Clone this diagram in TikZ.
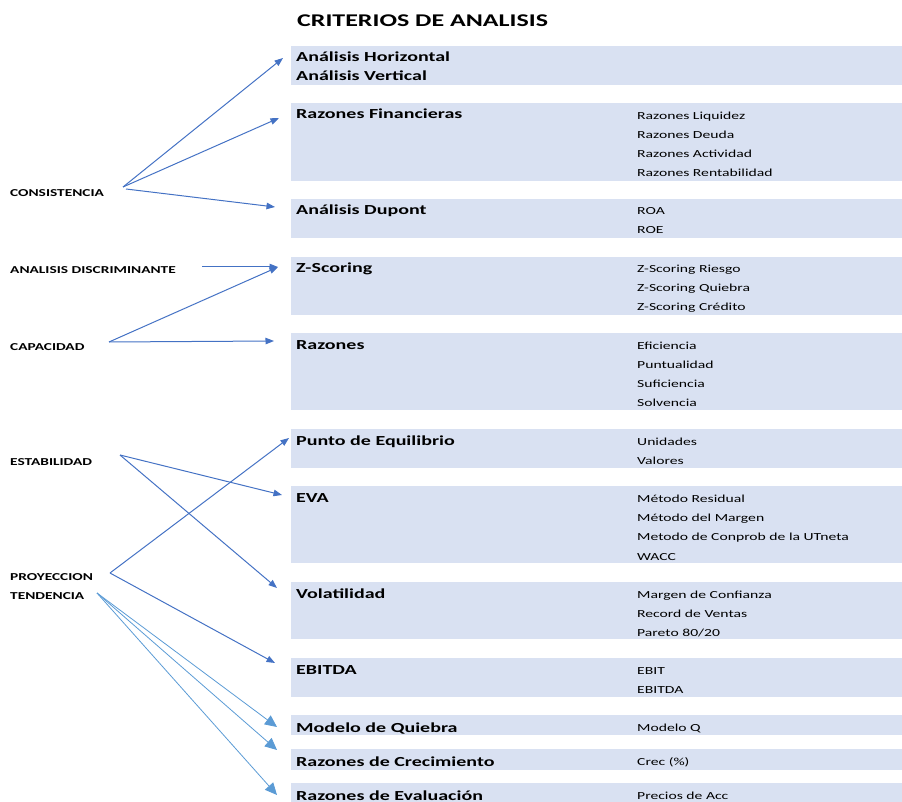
\documentclass[tikz,border=0pt]{standalone}
\usepackage{fontspec}
\setmainfont{Carlito}[FakeStretch=1.45]
\usetikzlibrary{arrows.meta}
\definecolor{boxfill}{HTML}{D9E1F2}
\definecolor{arr}{HTML}{4472C4}
\definecolor{arrl}{HTML}{5B9BD5}
\begin{document}
\begin{tikzpicture}[x=1pt,y=-1pt,
  box/.style={fill=boxfill, anchor=north west, inner sep=0pt, minimum width=611pt, draw=none},
  mainlbl/.style={anchor=base west, inner sep=0pt, yshift=-2pt, font=\fontsize{13.8}{16}\selectfont\bfseries},
  sublbl/.style={anchor=base west, inner sep=0pt, yshift=-1pt, font=\fontsize{10.8}{13}\selectfont},
  leftlbl/.style={anchor=base west, inner sep=0pt, yshift=-2pt, font=\fontsize{10.6}{13}\selectfont\bfseries},
  titlelbl/.style={anchor=base west, inner sep=0pt, font=\fontsize{17.9}{20}\selectfont\bfseries},
  conn/.style={draw=arr, line width=1pt, -{Triangle[length=8.5pt,width=6.5pt]}},
  connl/.style={draw=arrl, line width=0.8pt, -{Triangle[length=12pt,width=11pt]}}
]
\useasboundingbox (0,0) rectangle (902,802);

% title
\node[titlelbl] (title) at (297,27) {CRITERIOS DE ANALISIS};

% boxes
\node[box, minimum height=39pt] (b1) at (291,46) {};
\node[box, minimum height=78pt] (b2) at (291,103) {};
\node[box, minimum height=39pt] (b3) at (291,199) {};
\node[box, minimum height=58pt] (b4) at (291,257) {};
\node[box, minimum height=77pt] (b5) at (291,333) {};
\node[box, minimum height=39pt] (b6) at (291,429) {};
\node[box, minimum height=77pt] (b7) at (291,486) {};
\node[box, minimum height=57pt] (b8) at (291,582) {};
\node[box, minimum height=39pt] (b9) at (291,658) {};
\node[box, minimum height=20pt] (b10) at (291,715) {};
\node[box, minimum height=21pt] (b11) at (291,749) {};
\node[box, minimum height=19pt] (b12) at (291,783) {};

% main labels
\node[mainlbl] (m1a) at (296,60) {Análisis Horizontal};
\node[mainlbl] (m1b) at (296,79) {Análisis Vertical};
\node[mainlbl] (m2) at (296,117) {Razones Financieras};
\node[mainlbl] (m3) at (296,213) {Análisis Dupont};
\node[mainlbl] (m4) at (296,271) {Z-Scoring};
\node[mainlbl] (m5) at (296,347) {Razones};
\node[mainlbl] (m6) at (296,443) {Punto de Equilibrio};
\node[mainlbl] (m7) at (296,500) {EVA};
\node[mainlbl] (m8) at (296,596) {Volatilidad};
\node[mainlbl] (m9) at (296,672) {EBITDA};
\node[mainlbl] (m10) at (296,730) {Modelo de Quiebra};
\node[mainlbl] (m11) at (296,764) {Razones de Crecimiento};
\node[mainlbl] (m12) at (296,798) {Razones de Evaluación};

% sub items
\node[sublbl] (s2a) at (637,119) {Razones Liquidez};
\node[sublbl] (s2b) at (637,138) {Razones Deuda};
\node[sublbl] (s2c) at (637,157) {Razones Actividad};
\node[sublbl] (s2d) at (637,176) {Razones Rentabilidad};
\node[sublbl] (s3a) at (637,214) {ROA};
\node[sublbl] (s3b) at (637,233) {ROE};
\node[sublbl] (s4a) at (637,272) {Z-Scoring Riesgo};
\node[sublbl] (s4b) at (637,291) {Z-Scoring Quiebra};
\node[sublbl] (s4c) at (637,310) {Z-Scoring Crédito};
\node[sublbl] (s5a) at (637,348) {Eficiencia};
\node[sublbl] (s5b) at (637,367) {Puntualidad};
\node[sublbl] (s5c) at (637,386) {Suficiencia};
\node[sublbl] (s5d) at (637,405) {Solvencia};
\node[sublbl] (s6a) at (637,444) {Unidades};
\node[sublbl] (s6b) at (637,463) {Valores};
\node[sublbl] (s7a) at (637,501) {Método Residual};
\node[sublbl] (s7b) at (637,520) {Método del Margen};
\node[sublbl] (s7c) at (637,539) {Metodo de Conprob de la UTneta};
\node[sublbl] (s7d) at (637,559) {WACC};
\node[sublbl] (s8a) at (637,597) {Margen de Confianza};
\node[sublbl] (s8b) at (637,616) {Record de Ventas};
\node[sublbl] (s8c) at (637,635) {Pareto 80/20};
\node[sublbl] (s9a) at (637,673) {EBIT};
\node[sublbl] (s9b) at (637,692) {EBITDA};
\node[sublbl] (s10) at (637,730) {Modelo Q};
\node[sublbl] (s11) at (637,764) {Crec (\%)};
\node[sublbl] (s12) at (637,798) {Precios de Acc};

% left labels
\node[leftlbl] (cons) at (10,195) {CONSISTENCIA};
\node[leftlbl] (disc) at (10,272) {ANALISIS DISCRIMINANTE};
\node[leftlbl] (capa) at (10,348) {CAPACIDAD};
\node[leftlbl] (esta) at (10,463) {ESTABILIDAD};
\node[leftlbl] (proy) at (10,578) {PROYECCION};
\node[leftlbl] (tend) at (10,597) {TENDENCIA};

% connector end points
\coordinate (cons-o1) at (123,187);
\coordinate (cons-o2) at (126,189);
\coordinate (disc-o) at (202,267);
\coordinate (capa-o) at (109,342);
\coordinate (esta-o) at (120,455);
\coordinate (proy-o) at (110,573);
\coordinate (tend-o) at (97,593);

\coordinate (t1) at (283,58);
\coordinate (t2) at (279,118);
\coordinate (t3) at (275,207);
\coordinate (t4) at (278,267);
\coordinate (t5) at (274,341);
\coordinate (t6) at (289,438);
\coordinate (t7) at (282,495);
\coordinate (t8) at (277,588);
\coordinate (t9) at (275,663);
\coordinate (t10) at (277,727);
\coordinate (t11) at (277,750);
\coordinate (t12) at (277,795);

% connectors
\draw[conn] (cons-o1) -- (t1);
\draw[conn] (cons-o1) -- (t2);
\draw[conn] (cons-o2) -- (t3);
\draw[conn] (disc-o) -- (t4);
\draw[conn] (capa-o) -- (t4);
\draw[conn] (capa-o) -- (t5);
\draw[conn] (esta-o) -- (t7);
\draw[conn] (esta-o) -- (t8);
\draw[conn] (proy-o) -- (t6);
\draw[conn] (proy-o) -- (t9);
\draw[connl] (tend-o) -- (t10);
\draw[connl] (tend-o) -- (t11);
\draw[connl] (tend-o) -- (t12);
\end{tikzpicture}
\end{document}
